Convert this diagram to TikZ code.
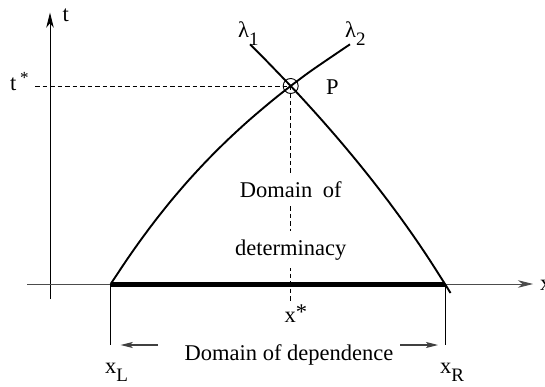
\documentclass[tikz,border=0pt]{standalone}
\usepackage{fontspec}
\setmainfont{Liberation Serif}
\usetikzlibrary{arrows.meta}
\newcommand{\lsub}[1]{\raisebox{-8pt}{\fontsize{19}{20}\selectfont #1}}
\newcommand{\lstar}{\raisebox{7pt}{\fontsize{17}{18}\selectfont *}}
\begin{document}
\begin{tikzpicture}[x=1pt,y=-1pt,
  lbl/.style={inner sep=0pt, anchor=base west, font=\fontsize{22.5}{26}\selectfont},
  clbl/.style={inner sep=0pt, anchor=base, font=\fontsize{22.5}{26}\selectfont},
  gaplbl/.style={anchor=base, font=\fontsize{22.5}{26}\selectfont, fill=white, inner xsep=1pt, inner ysep=8pt},
  axis/.style={line width=0.9pt, -{Stealth[length=15pt,width=7.5pt,inset=4.5pt]}},
  charc/.style={line width=1.9pt},
  guide/.style={line width=0.9pt, dash pattern=on 4.5pt off 3pt},
  tick/.style={line width=0.9pt},
  dimarrow/.style={line width=1.1pt, black!75, -{Stealth[length=12pt,width=6pt,inset=2.5pt]}}]
\useasboundingbox (0,0) rectangle (545,387);

% named points
\coordinate (P) at (290.7,86);
\coordinate (xL) at (110.7,284);
\coordinate (xR) at (445,284);
\coordinate (tbot) at (50,299);
\coordinate (ttop) at (50,12.7);
\coordinate (xleft) at (27,284);
\coordinate (xright) at (533,284);
\coordinate (tsl) at (35,86);
\coordinate (dashend) at (290.7,302);
\coordinate (xLb) at (110.7,345);
\coordinate (xRb) at (445,345);
\coordinate (aLs) at (158,345);
\coordinate (aLe) at (120.7,345);
\coordinate (aRs) at (400,345);
\coordinate (aRe) at (438,345);

% axes
\draw[axis] (tbot) -- (ttop);
\draw[axis, black!70] (xleft) -- (xright);

% dashed guides
\draw[guide] (tsl) -- (P);
\draw[guide] (P) -- (dashend);

% domain of dependence (thick)
\draw[line width=5pt] (xL) -- (xR);

% characteristic lambda_2 (through xL and P)
\draw[charc] plot[smooth] coordinates {
 (110.7,284) (126.67,260) (140.74,240) (155.69,220) (171.68,200) (188.87,180)
 (207.43,160) (227.52,140) (249.3,120) (272.95,100) (290.7,86) (312.27,70) (350,44.3)};
% characteristic lambda_1 (through P and xR)
\draw[charc] plot[smooth] coordinates {
 (250,44.3) (265.66,60) (290.7,86) (303.72,100) (321.76,120) (339.15,140)
 (355.88,160) (371.95,180) (387.37,200) (402.13,220) (416.23,240) (429.65,260)
 (444.95,284) (450.5,293)};

% circle at P
\draw[line width=0.9pt] (P) circle (7.5pt);

% ticks and dimension arrows
\draw[tick] (xL) -- (xLb);
\draw[tick] (xR) -- (xRb);
\draw[dimarrow] (aLs) -- (aLe);
\draw[dimarrow] (aRs) -- (aRe);

% labels
\node[lbl] (tlab) at (62.5,22) {t};
\node[lbl] (tstar) at (10,91) {t\,\lstar};
\node[lbl] (lam1) at (238,38) {λ\lsub{1}};
\node[lbl] (lam2) at (345,38) {λ\lsub{2}};
\node[lbl] (Plab) at (326,95) {P};
\node[gaplbl] (dom1) at (290.7,197) {Domain\hspace{5pt} of};
\node[gaplbl] (dom2) at (290.7,255) {determinacy};
\node[lbl] (xstar) at (284.5,322) {x\raisebox{3pt}{*}};
\node[clbl] (dep) at (289,360) {Domain of dependence};
\node[lbl] (xLlab) at (105,373) {x\lsub{L}};
\node[lbl] (xRlab) at (440,373) {x\lsub{R}};
\node[lbl] (xaxlab) at (540,290) {x};
\end{tikzpicture}
\end{document}
